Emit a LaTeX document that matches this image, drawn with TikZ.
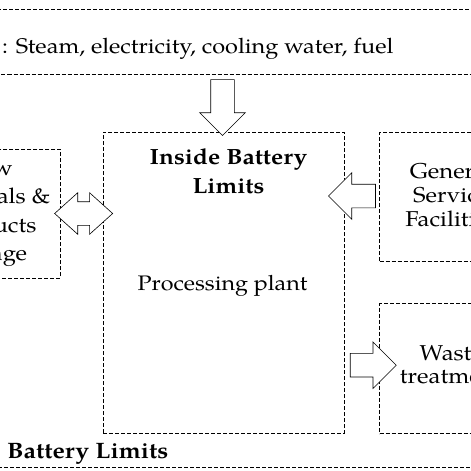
\documentclass[tikz,border=0pt]{standalone}
\usepackage{fontspec}
\setmainfont{texgyrepagella}[Extension=.otf, UprightFont=*-regular, BoldFont=*-bold, ItalicFont=*-italic, BoldItalicFont=*-bolditalic, FakeStretch=1.11]
\usetikzlibrary{shapes.arrows, positioning, calc}

\begin{document}
\begin{tikzpicture}[x=1pt, y=-1pt, font=\fontsize{21.5}{25}\selectfont,
        limit/.style={draw, dash pattern=on 4pt off 2pt, line width=0.7pt, inner sep=0pt},
        flow/.style={single arrow, draw, fill=white, line width=0.6pt, inner sep=11.5pt, single arrow tip angle=90},
        swap/.style={double arrow, draw, fill=white, line width=0.6pt, inner sep=11.5pt}]

                        \useasboundingbox (0,0) rectangle (471,471);
                        \clip (0,0) rectangle (471,471);
                        \fill[white] (0,0) rectangle (471,471);

                        % Boxes for the plant and its surroundings
                        \node (band) [limit, minimum width=600pt, minimum height=65pt] at (235.5,41.5) {};
                        \node (isbl) [limit, minimum width=241pt, minimum height=301pt] at (223.5,282.5) {};
                        \node (services) [limit, minimum width=134pt, minimum height=129pt, right=35pt of isbl.north east, anchor=north west] {};
                        \node (waste) [limit, minimum width=134pt, minimum height=130pt, below=42pt of services.south west, anchor=north west] {};
                        \node (storage) [limit, minimum width=136pt, minimum height=129pt, anchor=north east] at ($(isbl.north west)+(-42,17)$) {};
                        \draw[limit] (-20,467) -- (500,467);

                        % Texts in the boxes
                        \node (utiltext) [anchor=base west, inner sep=0pt, font=\fontsize{21.2}{25}\selectfont] at (2,53) {: Steam, electricity, cooling water, fuel};
                        \node (isbltitle) [align=center, font=\fontsize{22}{29}\selectfont\bfseries] at (228.5,171) {Inside Battery\\Limits};
                        \node (plant) [anchor=base, font=\fontsize{21}{25}\selectfont] at (222.5,290) {Processing plant};
                        \node (storetext) [align=center, font=\fontsize{21.5}{28.3}\selectfont] at ($(storage.center)+(-3,0)$) {Raw\\materials \&\\products\\storage};
                        \node (servtext) [align=center, font=\fontsize{21.5}{24}\selectfont] at ($(services.center)+(4.5,-1.5)$) {General\\Service\\Facilities};
                        \node (wastetext) [align=center, font=\fontsize{21.5}{23}\selectfont] at ($(waste.center)+(4.5,-4)$) {Waste\\treatment};
                        \node (bltext) [anchor=base west, inner sep=0pt, font=\fontsize{22.3}{25}\selectfont\bfseries] at (7,458) {Battery Limits};

                        % Block arrows between the boxes
                        \node (utilarrow) [flow, minimum height=56pt, single arrow head extend=11pt, shape border rotate=270] at ($(isbl.north)+(-1,-30)$) {};
                        \node (servarrow) [flow, minimum height=47pt, single arrow head extend=11.5pt, shape border rotate=180] at ($(services.west)+(-21.5,-0.5)$) {};
                        \node (wastearrow) [flow, minimum height=46pt, single arrow head extend=11.5pt] at ($(waste.west)+(-12,-3.5)$) {};
                        \node (tradearrow) [swap, minimum height=58pt, double arrow head extend=9pt, double arrow tip angle=84] at ($(storage.east)+(23,0)$) {};
                \end{tikzpicture}
\end{document}
